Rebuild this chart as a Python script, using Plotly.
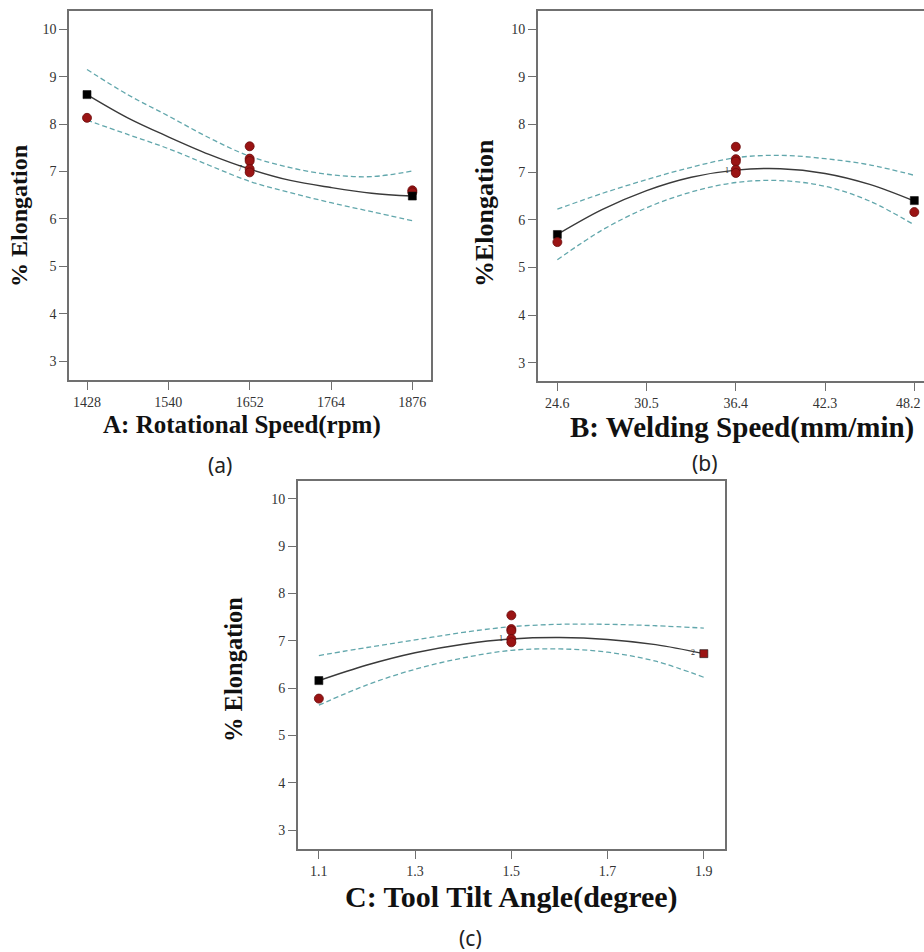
import plotly.graph_objects as go

# ---------------- data ----------------
# Panel (a): A: Rotational Speed (rpm)
a_x = [1428, 1484, 1540, 1596, 1652, 1708, 1764, 1820, 1876]
a_fit = [8.62, 8.13, 7.73, 7.36, 7.05, 6.81, 6.66, 6.54, 6.48]
a_up = [9.15, 8.62, 8.17, 7.71, 7.32, 7.08, 6.93, 6.89, 7.01]
a_lo = [8.08, 7.78, 7.48, 7.13, 6.79, 6.55, 6.34, 6.15, 5.96]
a_obs_x = [1428, 1652, 1652, 1652, 1652, 1652]
a_obs_y = [8.13, 7.53, 7.27, 7.22, 7.05, 6.98]
a_obs2_x = [1876, 1876]
a_obs2_y = [6.60, 6.56]
a_des_x = [1428, 1876]
a_des_y = [8.62, 6.48]
a_ticks = [1428, 1540, 1652, 1764, 1876]

# Panel (b): B: Welding Speed (mm/min)
b_x = [24.6, 27.55, 30.5, 33.45, 36.4, 39.35, 42.3, 45.25, 48.2]
b_fit = [5.69, 6.21, 6.61, 6.89, 7.04, 7.07, 6.97, 6.74, 6.39]
b_up = [6.22, 6.55, 6.84, 7.10, 7.30, 7.35, 7.28, 7.15, 6.93]
b_lo = [5.16, 5.78, 6.25, 6.58, 6.78, 6.82, 6.70, 6.39, 5.89]
b_obs_x = [24.6, 36.4, 36.4, 36.4, 36.4, 36.4, 48.2]
b_obs_y = [5.53, 7.53, 7.27, 7.22, 7.05, 6.98, 6.16]
b_des_x = [24.6, 48.2]
b_des_y = [5.69, 6.40]
b_ticks = [24.6, 30.5, 36.4, 42.3, 48.2]

# Panel (c): C: Tool Tilt Angle (degree)
c_x = [1.1, 1.2, 1.3, 1.4, 1.5, 1.6, 1.7, 1.8, 1.9]
c_fit = [6.16, 6.49, 6.75, 6.93, 7.04, 7.07, 7.03, 6.92, 6.73]
c_up = [6.69, 6.86, 7.02, 7.18, 7.30, 7.35, 7.35, 7.32, 7.27]
c_lo = [5.64, 6.07, 6.40, 6.64, 6.80, 6.83, 6.76, 6.57, 6.23]
c_obs_x = [1.1, 1.5, 1.5, 1.5, 1.5, 1.5]
c_obs_y = [5.78, 7.54, 7.25, 7.21, 7.04, 6.97]
c_des_x = [1.1, 1.9]
c_des_y = [6.16, 6.73]
c_ticks = [1.1, 1.3, 1.5, 1.7, 1.9]

y_ticks = [3, 4, 5, 6, 7, 8, 9, 10]

# ---------------- style ----------------
FIT_C = "#3a3a3a"
CI_C = "#62a7ac"
OBS_C = "#9a1414"
OBS_EDGE = "#6a0a0a"
FRAME_C = "#707070"
TICK_FONT = dict(family="Liberation Serif", size=14, color="#333333")
TITLE_FONT = "Liberation Serif"
OBS_SIZE = 9
DES_SIZE = 8

fig = go.Figure()


def axes_of(n):
    return ("x", "y") if n == 1 else (f"x{n}", f"y{n}")


def add_lines(n, xs, fit, up, lo):
    xa, ya = axes_of(n)
    for arr in (up, lo):
        fig.add_trace(go.Scatter(x=xs, y=arr, mode="lines", xaxis=xa, yaxis=ya,
                                 line=dict(color=CI_C, width=1.3, dash="5px,3px", shape="spline"),
                                 showlegend=False, hoverinfo="skip"))
    fig.add_trace(go.Scatter(x=xs, y=fit, mode="lines", xaxis=xa, yaxis=ya,
                             line=dict(color=FIT_C, width=1.4, shape="spline"),
                             showlegend=False))


def add_obs(n, ox, oy):
    xa, ya = axes_of(n)
    fig.add_trace(go.Scatter(x=ox, y=oy, mode="markers", xaxis=xa, yaxis=ya,
                             marker=dict(symbol="circle", size=OBS_SIZE, color=OBS_C,
                                         line=dict(color=OBS_EDGE, width=0.8)),
                             showlegend=False))


def add_des(n, dx, dy, colors):
    xa, ya = axes_of(n)
    fig.add_trace(go.Scatter(x=dx, y=dy, mode="markers", xaxis=xa, yaxis=ya,
                             marker=dict(symbol="square", size=DES_SIZE, color=colors,
                                         line=dict(color="#111111", width=0.6)),
                             showlegend=False))


add_lines(1, a_x, a_fit, a_up, a_lo)
add_des(1, a_des_x[:1], a_des_y[:1], ["black"])
add_obs(1, a_obs_x, a_obs_y)
add_obs(1, a_obs2_x, a_obs2_y)
add_des(1, a_des_x[1:], a_des_y[1:], ["black"])

add_lines(2, b_x, b_fit, b_up, b_lo)
add_des(2, b_des_x, b_des_y, ["black", "black"])
add_obs(2, b_obs_x, b_obs_y)

add_lines(3, c_x, c_fit, c_up, c_lo)
add_obs(3, c_obs_x, c_obs_y)
add_des(3, c_des_x, c_des_y, ["black", "#9a1414"])


def xaxis(domain, rng, ticks, anchor, labels=None):
    return dict(domain=domain, range=rng, tickvals=ticks,
                ticktext=labels if labels is not None else [str(t) for t in ticks],
                showgrid=False, zeroline=False, showline=True, linecolor=FRAME_C, linewidth=1.5,
                mirror=True, ticks="outside", ticklen=8, tickcolor=FRAME_C, tickwidth=1,
                tickfont=TICK_FONT, anchor=anchor)


def yaxis(domain, rng, anchor, mirror=True):
    return dict(domain=domain, range=rng, tickvals=y_ticks,
                showgrid=False, zeroline=False, showline=True, linecolor=FRAME_C, linewidth=1.5,
                mirror=mirror, ticks="outside", ticklen=8, tickcolor=FRAME_C, tickwidth=1,
                tickfont=TICK_FONT, anchor=anchor)


W, H = 924, 952


def px(x):
    return x / W


def py(y):
    return 1 - y / H


# last tick label of (b) would be dropped by plotly near the page edge; draw it as text instead
b_labels = [str(t) for t in b_ticks[:-1]] + [""]

fig.update_layout(
    width=W, height=H,
    margin=dict(l=0, r=0, t=0, b=0),
    paper_bgcolor="white", plot_bgcolor="white",
    xaxis=xaxis([px(69), px(430.7)], [1403.2, 1901.3], a_ticks, "y"),
    yaxis=yaxis([py(380), py(10.7)], [2.6, 10.39], "x"),
    xaxis2=xaxis([px(537.7), 1.0], [23.3, 48.84], b_ticks, "y2", b_labels),
    yaxis2=yaxis([py(381), py(11)], [2.616, 10.378], "x2", mirror=False),
    xaxis3=xaxis([px(297.7), px(725)], [1.056, 1.944], c_ticks, "y3"),
    yaxis3=yaxis([py(849), py(481)], [2.6, 10.38], "x3"),
)

ann = []


def txt(x, y, s, size, family=TITLE_FONT, bold=True, angle=0, color="#111111", anchor="center"):
    ann.append(dict(x=px(x), y=py(y), xref="paper", yref="paper", showarrow=False,
                    text=f"<b>{s}</b>" if bold else s, textangle=angle,
                    font=dict(family=family, size=size, color=color),
                    xanchor=anchor, yanchor="middle"))


# axis titles
txt(241.7, 425, "A: Rotational Speed(rpm)", 25)
txt(741.7, 428, "B: Welding Speed(mm/min)", 29)
txt(511.7, 897, "C: Tool Tilt Angle(degree)", 30)
txt(19, 216, "% Elongation", 24, angle=-90)
txt(485, 213, "%Elongation", 26, angle=-90)
txt(233, 669, "% Elongation", 24.5, angle=-90)
# panel labels
txt(220, 465, "(a)", 21, family="Noto Sans", bold=False, color="#222222")
txt(705, 463, "(b)", 21, family="Noto Sans", bold=False, color="#222222")
txt(470, 938, "(c)", 21, family="Noto Sans", bold=False, color="#222222")
# the 48.2 tick label of panel (b), kept inside the page edge
txt(923, 403, str(b_ticks[-1]), 14, bold=False, color="#333333", anchor="right")

fig.update_layout(annotations=ann)

# small replicate-count labels next to design points
counts = [("x", "y", 1639, 7.07, "7"), ("x2", "y2", 35.8, 7.04, "1"),
          ("x3", "y3", 1.478, 7.04, "1"), ("x3", "y3", 1.878, 6.75, "2")]
for xr, yr, xv, yv, s in counts:
    fig.add_annotation(x=xv, y=yv, xref=xr, yref=yr, text=s, showarrow=False,
                       font=dict(family="Liberation Serif", size=8, color="#333333"))

fig.write_html("out.html")
